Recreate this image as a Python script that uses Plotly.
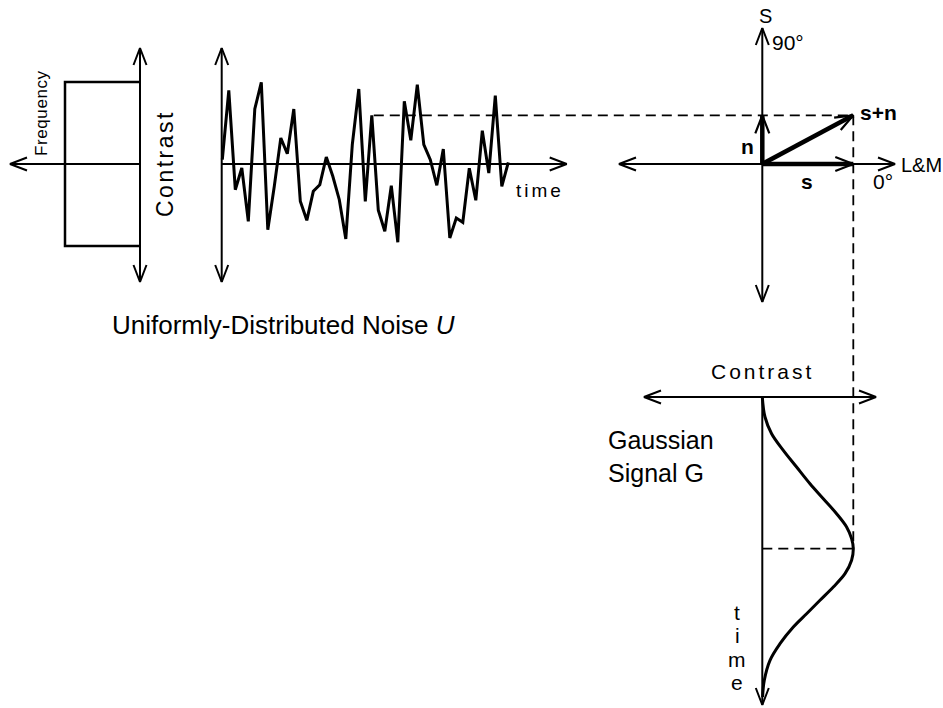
import math
import plotly.graph_objects as go

# ---------------- data ----------------
# uniformly-distributed noise samples (contrast, + is up), equally spaced in time
noise_contrast = [4.3, 73.7, -25.7, -4.0, -57.3, 55.0, 81.7, -65.7, -22.3, 26.0,
                  10.3, 55.0, -37.3, -56.3, -27.3, -20.7, 7.0, -12.3, -35.7, -75.0,
                  19.3, 75.0, -37.3, 48.7, -46.3, -67.3, -21.7, -78.3, 62.7, 23.7,
                  79.3, 19.3, 4.3, -21.3, 15.0, -74.0, -54.0, -58.3, -4.3, -36.3,
                  33.3, -9.0, 68.3, -22.3, 1.7]
noise_index_of_n = 23           # sample used as the noise vector n

# uniform distribution of the noise: contrast limits and frequency level
uniform_contrast = [-82.0, 82.0]
uniform_frequency = 75.0

# Gaussian signal: time (down) vs contrast
gauss_time = [0, 20, 36.7, 53.3, 70, 86.7, 101.7, 116.7, 130, 141.7, 151.7,
              163.3, 176.7, 190, 203.3, 216.7, 230, 246.7, 263.3, 283.3, 300]
gauss_contrast = [0, 2.7, 9.3, 21, 34.3, 47.7, 61, 74.3, 84.3, 89.3, 91,
                  89.3, 82.7, 71, 57.7, 44.3, 31, 17.7, 7.7, 2, 0.3]

# ---------------- layout geometry (pixel frame) ----------------
W, H = 943, 708
FONT = "Liberation Sans, Arial, Helvetica, sans-serif"

# noise panel
NX0, NY0, NDT = 222.3, 164.0, 6.5
N_AXIS_X, N_TOP, N_BOT, N_TIME_END = 221.7, 48.0, 282.0, 566.7
# frequency panel
F_AXIS_X, F_LEFT_END = 140.0, 10.0
# vector panel
VX0, VY0 = 762.3, 164.0
V_TOP, V_BOT, V_LEFT, V_RIGHT = 28.0, 302.0, 619.0, 895.0
# gaussian panel
GX0, GY0 = 762.3, 397.0
G_LEFT, G_RIGHT, G_BOT = 644.0, 876.0, 705.0


def head(tx, ty, dx, dy, L=17.0, Hw=6.5):
    n = math.hypot(dx, dy)
    ux, uy = dx / n, dy / n
    px, py = -uy, ux
    bx, by = tx - L * ux, ty - L * uy
    return [bx + Hw * px, tx, bx - Hw * px, None], [by + Hw * py, ty, by - Hw * py, None]


def seg(x0, y0, x1, y1):
    return [x0, x1, None], [y0, y1, None]


fig = go.Figure()

# ---- thin axis lines with arrowheads ----
ax_x, ax_y = [], []


def add(xy):
    ax_x.extend(xy[0]); ax_y.extend(xy[1])


def double_arrow(x0, y0, x1, y1, both=True):
    add(seg(x0, y0, x1, y1))
    add(head(x1, y1, x1 - x0, y1 - y0))
    if both:
        add(head(x0, y0, x0 - x1, y0 - y1))


# frequency panel axes
double_arrow(F_AXIS_X, N_BOT, F_AXIS_X, N_TOP)
double_arrow(F_AXIS_X, NY0, F_LEFT_END, NY0, both=False)
# noise panel axes
double_arrow(N_AXIS_X, N_BOT, N_AXIS_X, N_TOP)
double_arrow(N_AXIS_X, NY0, N_TIME_END, NY0, both=False)
# vector panel axes
double_arrow(VX0, V_BOT, VX0, V_TOP)
double_arrow(V_LEFT, VY0, V_RIGHT, VY0)
# gaussian panel axes
double_arrow(G_LEFT, GY0, G_RIGHT, GY0)
double_arrow(GX0, GY0, GX0, G_BOT, both=False)

fig.add_trace(go.Scatter(x=ax_x, y=ax_y, mode="lines",
                         line=dict(color="black", width=2), hoverinfo="skip"))

# ---- uniform distribution box ----
box_x = [F_AXIS_X, F_AXIS_X - uniform_frequency, F_AXIS_X - uniform_frequency, F_AXIS_X]
box_y = [NY0 - uniform_contrast[1], NY0 - uniform_contrast[1],
         NY0 - uniform_contrast[0], NY0 - uniform_contrast[0]]
fig.add_trace(go.Scatter(x=box_x, y=box_y, mode="lines",
                         line=dict(color="black", width=2.5), hoverinfo="skip"))

# ---- noise trace ----
nx = [NX0 + i * NDT for i in range(len(noise_contrast))]
ny = [NY0 - v for v in noise_contrast]
fig.add_trace(go.Scatter(x=nx, y=ny, mode="lines",
                         line=dict(color="black", width=3), hoverinfo="skip"))

# ---- vectors ----
n_val = noise_contrast[noise_index_of_n]
s_val = max(gauss_contrast)
tip_s = (VX0 + s_val, VY0)
tip_n = (VX0, VY0 - n_val)
tip_sn = (VX0 + s_val, VY0 - n_val)
vx, vy = [], []
for tx, ty in (tip_s, tip_n, tip_sn):
    vx += [VX0, tx, None]; vy += [VY0, ty, None]
fig.add_trace(go.Scatter(x=vx, y=vy, mode="lines",
                         line=dict(color="black", width=4.5), hoverinfo="skip"))
hx, hy = [], []
for tx, ty in (tip_s, tip_n, tip_sn):
    a, b = head(tx, ty, tx - VX0, ty - VY0, L=18, Hw=7)
    hx += a; hy += b
fig.add_trace(go.Scatter(x=hx, y=hy, mode="lines",
                         line=dict(color="black", width=2.2), hoverinfo="skip"))

# ---- gaussian curve ----
gx = [GX0 + c for c in gauss_contrast]
gy = [GY0 + t for t in gauss_time]
fig.add_trace(go.Scatter(x=gx, y=gy, mode="lines", line_shape="spline",
                         line=dict(color="black", width=3), hoverinfo="skip"))

# ---- dashed guide lines ----
peak_t = gauss_time[gauss_contrast.index(s_val)]
dx_, dy_ = [], []
for s in (seg(nx[noise_index_of_n] + 2, ny[noise_index_of_n], tip_sn[0], tip_sn[1]),
          seg(tip_sn[0], tip_sn[1], tip_sn[0], GY0 + peak_t),
          seg(GX0, GY0 + peak_t, GX0 + s_val, GY0 + peak_t)):
    dx_ += s[0]; dy_ += s[1]
fig.add_trace(go.Scatter(x=dx_, y=dy_, mode="lines",
                         line=dict(color="black", width=1.8, dash="10px,6px"),
                         hoverinfo="skip"))

# ---- text ----
def txt(x, y, text, size, angle=0, xanchor="center", yanchor="middle", align="center"):
    fig.add_annotation(x=x, y=y, xref="x", yref="y", text=text, showarrow=False,
                       textangle=angle, xanchor=xanchor, yanchor=yanchor, align=align,
                       font=dict(family=FONT, size=size, color="black"))


def sp(t, px):
    return f'<span style="letter-spacing:{px}px">{t}</span>'


txt(41, 113, sp("Frequency", 0.6), 17, angle=-90)
txt(165, 164, sp("Contrast", 2.5), 23, angle=-90)
txt(540, 190, sp("time", 3), 19)
txt(110, 325, "Uniformly-Distributed Noise <i>U</i>", 26, xanchor="left")

txt(765, 16, "S", 20)
txt(788, 42, "90°", 21)
txt(921, 165, "L&M", 20)
txt(883, 181, "0°", 21)
txt(878, 112, "<b>s+n</b>", 21)
txt(747, 146, "<b>n</b>", 21)
txt(807, 181, "<b>s</b>", 21)

txt(762, 371, sp("Contrast", 3), 21)
txt(606, 456, "Gaussian<br>Signal G", 25, xanchor="left", align="left")
for i, ch in enumerate("time"):
    txt(737, 612 + 23.5 * i, ch, 21)

fig.update_layout(
    width=W, height=H, margin=dict(l=0, r=0, t=0, b=0),
    paper_bgcolor="white", plot_bgcolor="white", showlegend=False,
    xaxis=dict(range=[0, W], visible=False, fixedrange=True),
    yaxis=dict(range=[H, 0], visible=False, fixedrange=True),
)
fig.write_html("out.html")
